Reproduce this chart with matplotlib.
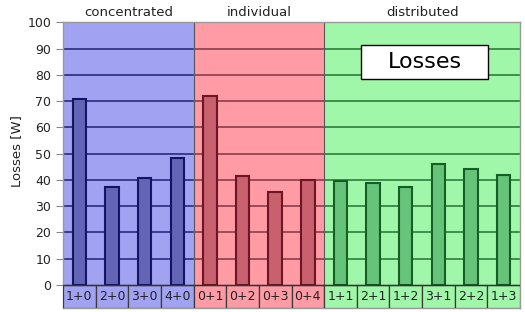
import matplotlib.pyplot as plt
from matplotlib.patches import Rectangle

groups = ['concentrated', 'individual', 'distributed']
labels = ['1+0', '2+0', '3+0', '4+0',
          '0+1', '0+2', '0+3', '0+4',
          '1+1', '2+1', '1+2', '3+1', '2+2', '1+3']
losses = [70.9, 37.2, 40.9, 48.2,
          72.1, 41.6, 35.3, 39.9,
          39.4, 39.0, 37.2, 46.0, 44.1, 41.9]
group_sizes = [4, 4, 6]

bg_colors = ['#a2a2f2', '#fe9ba4', '#a1f7a9']
bar_colors = ['#6464b6', '#c8606e', '#66c37a']
edge_colors = ['#141464', '#6e1422', '#145f24']
grid_colors = ['#3c3c8e', '#9c4a58', '#3e8e4e']

cell_h = 8.8

fig = plt.figure(figsize=(5.25, 3.12), dpi=100)
ax = fig.add_axes([0.12, 0.013, 0.8705, 0.915])

ax.set_xlim(-0.5, len(labels) - 0.5)
ax.set_ylim(-cell_h, 100)

start = 0
for g, n in enumerate(group_sizes):
    x0, x1 = start - 0.5, start + n - 0.5
    ax.axvspan(x0, x1, color=bg_colors[g], zorder=0, lw=0)
    # gridlines inside group
    for yv in range(10, 100, 10):
        ax.plot([x0, x1], [yv, yv], color=grid_colors[g], lw=1.4, zorder=1)
    # bars
    idx = list(range(start, start + n))
    ax.bar(idx, losses[start:start + n], width=0.41, color=bar_colors[g],
           edgecolor=edge_colors[g], linewidth=1.5, zorder=2)
    # label cells
    for i in idx:
        ax.add_patch(Rectangle((i - 0.5, -cell_h), 1, cell_h, facecolor=bg_colors[g],
                               edgecolor='#3a3a3a', lw=0.9, zorder=3))
        ax.text(i, -cell_h / 2, labels[i], ha='center', va='center', fontsize=9,
                color='#222222', zorder=4)
    # group header
    ax.text((x0 + x1) / 2, 101.5, groups[g], ha='center', va='bottom', fontsize=9.5,
            color='#222222')
    if g > 0:
        ax.axvline(x0, color='#555555', lw=0.8, zorder=1.5)
    start += n

ax.axhline(0, color='#333333', lw=1.0, zorder=3)

ax.set_xticks([])
ax.set_yticks(range(0, 101, 10))
ax.tick_params(axis='y', labelsize=9, length=5, color='#888888', labelcolor='#222222')
for s in ax.spines.values():
    s.set_color('#999999')
    s.set_linewidth(1.0)
ax.set_ylabel('Losses [W]', fontsize=9.5, color='#222222')
ax.yaxis.set_label_coords(-0.087, 0.55)

ax.add_patch(Rectangle((0.652, 0.802), 0.278, 0.119, transform=ax.transAxes,
                       facecolor='white', edgecolor='black', lw=1, zorder=5))
ax.text(0.791, 0.862, 'Losses', transform=ax.transAxes, ha='center', va='center',
        fontsize=16, color='black', zorder=6)

fig.savefig('out.png', dpi=100)
